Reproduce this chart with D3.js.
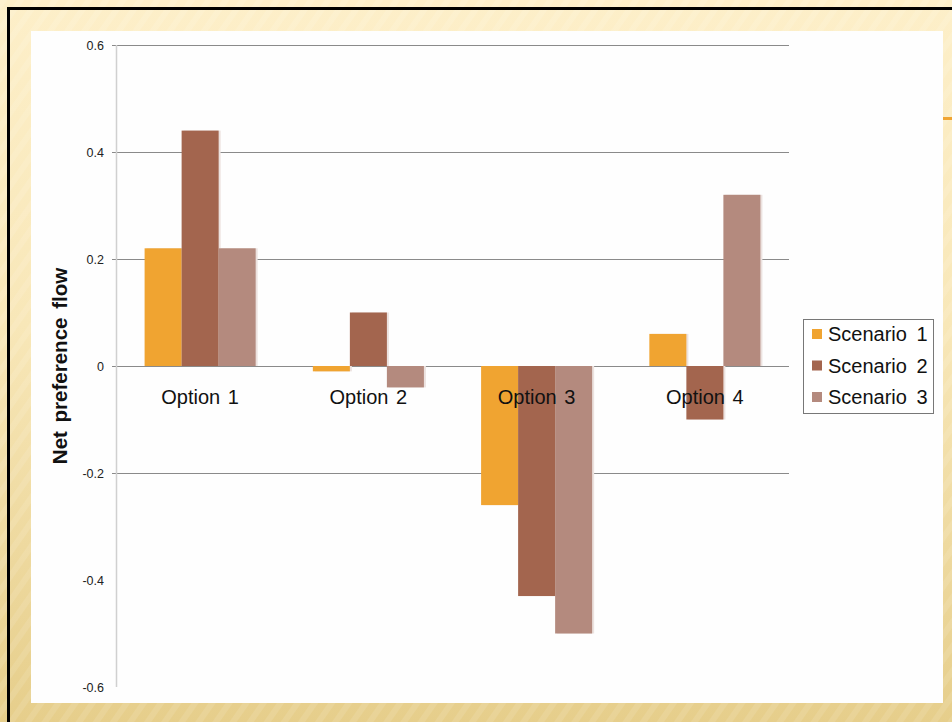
<!DOCTYPE html>
<html>
<head>
<meta charset="utf-8">
<script src="https://cdn.jsdelivr.net/npm/d3@7"></script>
<style>
  body { margin: 0; background: #fff; }
  svg { display: block; font-family: "Liberation Sans", Arial, sans-serif; }
</style>
</head>
<body>
<svg id="chart" width="952" height="722"></svg>
<script>
// chart values
var categories = ["Option 1", "Option 2", "Option 3", "Option 4"];
var seriesNames = ["Scenario 1", "Scenario 2", "Scenario 3"];
var scenario1 = [0.22, -0.01, -0.26, 0.06];
var scenario2 = [0.44, 0.10, -0.43, -0.10];
var scenario3 = [0.22, -0.04, -0.50, 0.32];
var yTicks = [0.6, 0.4, 0.2, 0, -0.2, -0.4, -0.6];
var tickLabels = ["0.6", "0.4", "0.2", "0", "-0.2", "-0.4", "-0.6"];
var gridTicks = [0.6, 0.4, 0.2, 0, -0.2];   // the lower two lines are missing in the source picture
var colors = ["#f0a431", "#a3654e", "#b48a7e"];

var allSeries = [scenario1, scenario2, scenario3];

var svg = d3.select("#chart");
var defs = svg.append("defs");

// slide background
var grad = defs.append("linearGradient").attr("id", "bg").attr("x1", 0).attr("y1", 0).attr("x2", 0).attr("y2", 1);
grad.append("stop").attr("offset", "0%").attr("stop-color", "#fdefc9");
grad.append("stop").attr("offset", "45%").attr("stop-color", "#f8e7b8");
grad.append("stop").attr("offset", "100%").attr("stop-color", "#e6ce8b");

var pat = defs.append("pattern").attr("id", "stripes").attr("patternUnits", "userSpaceOnUse")
  .attr("width", 14).attr("height", 14).attr("patternTransform", "rotate(35)");
pat.append("rect").attr("width", 6).attr("height", 14).attr("fill", "#ffffff").attr("opacity", 0.1);

svg.append("rect").attr("width", 952).attr("height", 722).attr("fill", "url(#bg)");
svg.append("rect").attr("width", 952).attr("height", 722).attr("fill", "url(#stripes)");

// black frame (top + left)
svg.append("rect").attr("x", 7).attr("y", 7).attr("width", 945).attr("height", 3).attr("fill", "#000");
svg.append("rect").attr("x", 7).attr("y", 7).attr("width", 3).attr("height", 715).attr("fill", "#000");

// small orange accent on the right
svg.append("rect").attr("x", 943).attr("y", 117).attr("width", 9).attr("height", 3).attr("fill", "#f0a431");

// white chart panel
svg.append("rect").attr("x", 31).attr("y", 31).attr("width", 912).attr("height", 672).attr("fill", "#fefefe");

var plotLeft = 116, plotRight = 789, plotTop = 45, plotBottom = 687;

var x0 = d3.scaleBand().domain(categories).range([plotLeft, plotRight]).paddingInner(0.34).paddingOuter(0.17);
var x1 = d3.scaleBand().domain(seriesNames).range([0, x0.bandwidth()]);
var y = d3.scaleLinear().domain([-0.6, 0.6]).range([plotBottom, plotTop]);

// gridlines
svg.append("g").selectAll("line").data(gridTicks).join("line")
  .attr("x1", plotLeft - 4).attr("x2", plotRight)
  .attr("y1", function(d){ return Math.round(y(d)) + 0.5; })
  .attr("y2", function(d){ return Math.round(y(d)) + 0.5; })
  .attr("stroke", "#8a8a8a").attr("stroke-width", 1);

// y axis line
svg.append("line").attr("x1", plotLeft + 0.5).attr("x2", plotLeft + 0.5).attr("y1", plotTop).attr("y2", plotBottom)
  .attr("stroke", "#d0d0d0").attr("stroke-width", 1.5);

// tick labels
svg.append("g").selectAll("text").data(yTicks).join("text")
  .attr("x", 104).attr("y", function(d){ return y(d) + 4.5; })
  .attr("text-anchor", "end").attr("font-size", 12.5).attr("fill", "#222")
  .text(function(d, i){ return tickLabels[i]; });

// bars
var groups = svg.append("g").selectAll("g").data(categories).join("g")
  .attr("transform", function(d){ return "translate(" + x0(d) + ",0)"; });

groups.each(function(cat, ci) {
  var g = d3.select(this);
  seriesNames.forEach(function(s, si) {
    var v = allSeries[si][ci];
    var yTop = y(Math.max(0, v)), yBot = y(Math.min(0, v));
    // faint shadow
    g.append("rect").attr("x", x1(s) + 2).attr("y", yTop).attr("width", x1.bandwidth())
      .attr("height", yBot - yTop).attr("fill", "#ece2df");
    g.append("rect").attr("x", x1(s)).attr("y", yTop).attr("width", x1.bandwidth())
      .attr("height", yBot - yTop).attr("fill", colors[si]);
  });
});

// category labels
svg.append("g").selectAll("text").data(categories).join("text")
  .attr("x", function(d){ return x0(d) + x0.bandwidth() / 2; })
  .attr("y", y(0) + 38)
  .attr("text-anchor", "middle").attr("font-size", 20).attr("word-spacing", 2).attr("fill", "#111")
  .text(function(d){ return d; });

// y axis title
svg.append("text").attr("transform", "translate(67," + y(0) + ") rotate(-90)")
  .attr("text-anchor", "middle").attr("font-size", 20.5).attr("font-weight", "bold").attr("word-spacing", 3).attr("fill", "#111")
  .text("Net preference flow");

// legend
var legend = svg.append("g");
legend.append("rect").attr("x", 803.5).attr("y", 319.5).attr("width", 130).attr("height", 94)
  .attr("fill", "#fff").attr("stroke", "#777").attr("stroke-width", 1);
seriesNames.forEach(function(s, i) {
  var cy = 334 + i * 31.5;
  legend.append("rect").attr("x", 812).attr("y", cy - 5).attr("width", 10).attr("height", 10).attr("fill", colors[i]);
  legend.append("text").attr("x", 828).attr("y", cy + 7).attr("font-size", 20).attr("word-spacing", 4).attr("fill", "#111").text(s);
});
</script>
</body>
</html>
